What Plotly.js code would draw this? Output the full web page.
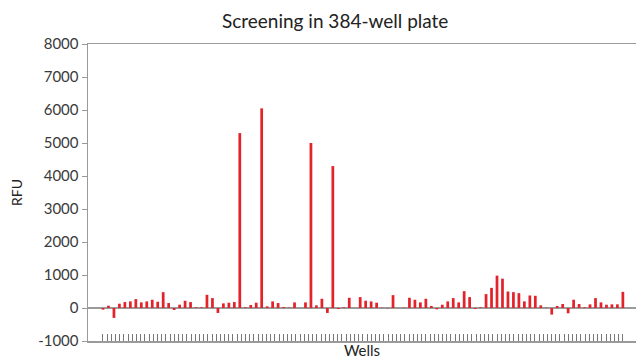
<!DOCTYPE html>
<html>
<head>
<meta charset="utf-8">
<script src="https://cdn.plot.ly/plotly-3.0.1.min.js"></script>
<style>html,body{margin:0;padding:0;background:#fff;}#chart{width:636px;height:362px;}</style>
</head>
<body>
<div id="chart"></div>
<script>
// Well index (1..96) and relative fluorescence units
const wells = Array.from({length: 96}, (_, i) => i + 1);
const rfu = [
  -50, 70, -300, 130, 180, 200, 270, 170, 200, 250,
  190, 480, 150, -60, 100, 220, 180, 20, 20, 400,
  300, -150, 140, 160, 180, 5300, 20, 90, 160, 6050,
  50, 200, 150, 30, 10, 170, 0, 170, 5000, 80,
  280, -150, 4300, -30, 20, 310, 0, 330, 220, 200,
  160, 10, -10, 390, 0, 10, 310, 250, 170, 280,
  60, -40, 100, 200, 300, 170, 510, 330, -30, 20,
  420, 610, 980, 890, 500, 480, 450, 200, 380, 370,
  80, 10, -200, 60, 120, -160, 250, 120, 20, 110,
  300, 170, 100, 110, 110, 490
];
const yTicks = [-1000, 0, 1000, 2000, 3000, 4000, 5000, 6000, 7000, 8000];
const yTickText = ['-1000', '0', '1000', '2000', '3000', '4000', '5000', '6000', '7000', '8000'];
const nTicks = 125;
const tickVals = Array.from({length: nTicks}, (_, k) => wells[0] + k * (wells[wells.length - 1] - wells[0]) / (nTicks - 1));

const FONT = 'Lato, "Open Sans", sans-serif';
const AX = '#9a9a9a';

Plotly.newPlot('chart', [{
  type: 'bar',
  x: wells,
  y: rfu,
  width: 0.5,
  marker: {color: '#e3222a', line: {width: 0}},
  hoverinfo: 'x+y'
}], {
  width: 636, height: 362,
  margin: {l: 88, r: 0, t: 44, b: 21, pad: 0},
  paper_bgcolor: '#ffffff', plot_bgcolor: '#ffffff',
  showlegend: false,
  font: {family: FONT, color: '#333333'},
  title: {text: 'Screening in 384-well plate', font: {family: FONT, size: 19, color: '#222222'},
          xref: 'container', x: 0.527, xanchor: 'center', yref: 'container', y: 0.94, yanchor: 'middle'},
  xaxis: {
    range: [-1.74, 98.4],
    tickmode: 'array', tickvals: tickVals, showticklabels: false,
    ticks: 'inside', ticklen: 7, tickwidth: 1, tickcolor: '#777777',
    showline: true, linecolor: AX, linewidth: 1.5, mirror: true,
    showgrid: false, zeroline: false,
    title: {text: 'Wells', font: {family: FONT, size: 15, color: '#222222'}, standoff: 4}
  },
  yaxis: {
    range: [-1000, 8000],
    tickmode: 'array', tickvals: yTicks, ticktext: yTickText,
    ticks: 'outside', ticklen: 5, tickwidth: 1, tickcolor: AX,
    tickfont: {family: FONT, size: 15, color: '#3a3a3a'},
    showline: true, linecolor: AX, linewidth: 1.5,
    showgrid: false,
    zeroline: true, zerolinecolor: AX, zerolinewidth: 1.2,
    title: {text: 'RFU', font: {family: FONT, size: 14, color: '#222222'}, standoff: 12}
  },
  bargap: 0.5
}, {displayModeBar: false, staticPlot: true});
</script>
</body>
</html>
